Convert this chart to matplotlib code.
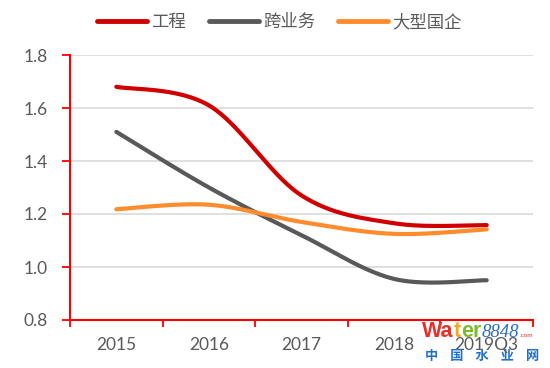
import numpy as np
import matplotlib.pyplot as plt
from matplotlib.ticker import FixedLocator, NullFormatter

plt.rcParams['font.family'] = ['Lato', 'Noto Sans CJK SC', 'DejaVu Sans']

# data
years = ['2015', '2016', '2017', '2018', '2019Q3']
gongcheng = [1.68, 1.61, 1.27, 1.165, 1.158]
kuayewu = [1.51, 1.30, 1.12, 0.955, 0.95]
daxingguoqi = [1.218, 1.235, 1.17, 1.125, 1.142]
series_names = ['工程', '跨业务', '大型国企']
colors = ['#D00000', '#595959', '#FF8C2C']


def smooth(xs, ys, n=40):
    # excel-like smoothed line: bezier through points, tangents from neighbours
    p = np.column_stack([xs, ys]).astype(float)
    p = np.vstack([p[0], p, p[-1]])
    out = []
    t = np.linspace(0, 1, n)[:, None]
    for i in range(1, len(p) - 2):
        p0 = p[i]
        p3 = p[i + 1]
        p1 = p0 + (p[i + 1] - p[i - 1]) / 6.0
        p2 = p3 - (p[i + 2] - p[i]) / 6.0
        seg = (1 - t) ** 3 * p0 + 3 * (1 - t) ** 2 * t * p1 + 3 * (1 - t) * t ** 2 * p2 + t ** 3 * p3
        out.append(seg)
    out = np.vstack(out)
    return out[:, 0], out[:, 1]


fig = plt.figure(figsize=(5.5, 3.68), dpi=100)
ax = fig.add_axes([70 / 550, 48 / 368, 463 / 550, 265 / 368])

x = np.arange(len(years))
for vals, name, c in zip([gongcheng, kuayewu, daxingguoqi], series_names, colors):
    sx, sy = smooth(x, vals)
    ax.plot(sx, sy, color=c, lw=3.0, solid_capstyle='round', label=name, zorder=3)

ax.set_xlim(-0.5, len(years) - 0.5)
ax.set_ylim(0.8, 1.8)
ax.set_yticks(np.arange(0.8, 1.81, 0.2))
ax.set_yticklabels(['%.1f' % v for v in np.arange(0.8, 1.81, 0.2)])
ax.yaxis.grid(True, color='#D9D9D9', lw=1.2)
ax.set_axisbelow(True)

# ticks at category boundaries, labels in the middle
ax.xaxis.set_major_locator(FixedLocator(np.arange(-0.5, len(years), 1.0)))
ax.xaxis.set_major_formatter(NullFormatter())
ax.xaxis.set_minor_locator(FixedLocator(x))
ax.set_xticklabels(years, minor=True)
ax.tick_params(axis='x', which='major', length=5, width=1.3, color='red', direction='out')
ax.tick_params(axis='x', which='minor', length=0, pad=12, labelsize=12.5, labelcolor='#595959')
ax.tick_params(axis='y', length=6, width=1.3, color='red', direction='out', pad=10,
               labelsize=12.5, labelcolor='#595959')

for s in ['top', 'right']:
    ax.spines[s].set_visible(False)
for s in ['left', 'bottom']:
    ax.spines[s].set_color('red')
    ax.spines[s].set_linewidth(1.5)

leg = fig.legend(loc='center', bbox_to_anchor=(0.508, 1 - 22 / 368), ncol=3, frameon=False,
                 prop={'family': ['Noto Sans CJK SC'], 'size': 12.5},
                 handlelength=2.9, handletextpad=0.25, columnspacing=1.3)
for t in leg.get_texts():
    t.set_color('#595959')
for h in leg.get_lines():
    h.set_linewidth(3.5)
    h.set_solid_capstyle('round')

# watermark, pieces chained one after the other
fig.canvas.draw()
r = fig.canvas.get_renderer()
xpos = 422
ybase = 1 - 337 / 368
pieces = [('Wa', '#E8302A', dict(fontsize=15.5, fontweight='bold', family='Liberation Sans')),
          ('t', '#F5A623', dict(fontsize=15.5, fontweight='bold', family='Liberation Sans')),
          ('er', '#7DBA2F', dict(fontsize=15.5, fontweight='bold', family='Liberation Sans')),
          ('8848', '#2B6CC4', dict(fontsize=13.5, style='italic', family='Liberation Serif')),
          ('.com', '#E8302A', dict(fontsize=4.5, family='Liberation Sans'))]
for txt, c, kw in pieces:
    tt = fig.text(xpos / 550, ybase, txt, color=c, **kw)
    xpos = tt.get_window_extent(r).x1 + 0.3
fig.text(425 / 550, 1 - 360 / 368, '中    国    水    业    网', color='#1E6FD0', fontsize=9.5,
         fontweight='bold', family=['Noto Sans CJK SC'])

fig.savefig('out.png', dpi=100)
